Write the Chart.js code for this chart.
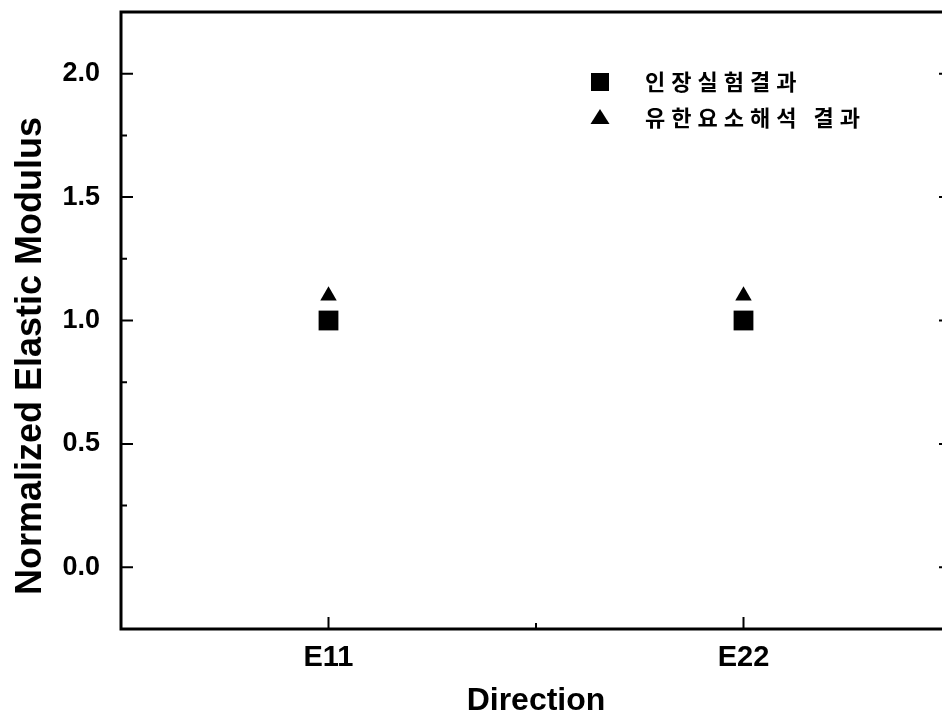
<!DOCTYPE html>
<html>
<head>
<meta charset="utf-8">
<script src="https://cdn.jsdelivr.net/npm/chart.js@4/dist/chart.umd.min.js"></script>
<style>
  html, body { margin: 0; padding: 0; background: #fff; overflow: hidden; }
  #wrap { width: 942px; height: 721px; overflow: hidden; }
</style>
</head>
<body>
<div id="wrap"><canvas id="chart" width="952" height="721"></canvas></div>
<script>
const categories = ['E11', 'E22'];
const tensileTest = [1.00, 1.00];
const femAnalysis = [1.10, 1.10];
const seriesNames = ['인장실험결과', '유한요소해석 결과'];
const yTicks = [0.0, 0.5, 1.0, 1.5, 2.0];
const yMinor = [-0.25, 0.25, 0.75, 1.25, 1.75, 2.25];
const yTitle = 'Normalized Elastic Modulus';
const xTitle = 'Direction';

const axisFont = 'Liberation Sans';

// no extra room for edge labels, the box is placed by hand
function noPad(s) {
  s.paddingTop = 0;
  s.paddingBottom = 0;
  s.paddingLeft = 0;
  s.paddingRight = 0;
}

// ticks pointing inward, the box frame, the y title and the legend
const framePlugin = {
  id: 'frame',
  afterDraw(chart) {
    const ctx = chart.ctx;
    const a = chart.chartArea;
    const x = chart.scales.x;
    const y = chart.scales.y;
    ctx.save();
    ctx.strokeStyle = '#000';
    ctx.lineWidth = 2;
    ctx.beginPath();
    yTicks.forEach(v => {
      const py = y.getPixelForValue(v);
      ctx.moveTo(a.left, py); ctx.lineTo(a.left + 12, py);
      ctx.moveTo(a.right, py); ctx.lineTo(a.right - 12, py);
    });
    yMinor.forEach(v => {
      const py = y.getPixelForValue(v);
      ctx.moveTo(a.left, py); ctx.lineTo(a.left + 6, py);
      ctx.moveTo(a.right, py); ctx.lineTo(a.right - 6, py);
    });
    categories.forEach((c, i) => {
      const px = x.getPixelForValue(i);
      ctx.moveTo(px, a.bottom); ctx.lineTo(px, a.bottom - 12);
    });
    for (let i = 0; i < categories.length - 1; i++) {
      const px = (x.getPixelForValue(i) + x.getPixelForValue(i + 1)) / 2;
      ctx.moveTo(px, a.bottom); ctx.lineTo(px, a.bottom - 6);
    }
    ctx.stroke();

    ctx.lineWidth = 3;
    ctx.strokeRect(a.left, a.top, a.right - a.left, a.bottom - a.top);

    // y axis title
    ctx.fillStyle = '#000';
    ctx.font = 'bold 36px ' + axisFont;
    ctx.textAlign = 'center';
    ctx.textBaseline = 'middle';
    ctx.translate(31, 356);
    ctx.rotate(-Math.PI / 2);
    ctx.fillText(yTitle, 0, 0);
    ctx.restore();

    // legend inside the plot
    ctx.save();
    ctx.fillStyle = '#000';
    chart.data.datasets.forEach((ds, i) => {
      const mx = a.left + 479;
      const my = a.top + 70 + i * 36;
      ctx.beginPath();
      if (ds.pointStyle === 'rect') {
        ctx.rect(mx - 9, my - 9, 18, 18);
      } else {
        ctx.moveTo(mx, my - 9);
        ctx.lineTo(mx + 9.5, my + 6);
        ctx.lineTo(mx - 9.5, my + 6);
        ctx.closePath();
      }
      ctx.fill();
      ctx.font = 'bold 22px "Noto Sans CJK KR"';
      ctx.letterSpacing = '6px';
      ctx.textAlign = 'left';
      ctx.textBaseline = 'middle';
      ctx.fillText(ds.label, a.left + 524, my);
    });
    ctx.restore();
  }
};

new Chart(document.getElementById('chart').getContext('2d'), {
  type: 'line',
  data: {
    labels: categories,
    datasets: [
      {
        label: seriesNames[0],
        data: tensileTest,
        showLine: false,
        pointStyle: 'rect',
        pointRadius: 14,
        pointHoverRadius: 14,
        backgroundColor: '#000',
        borderColor: '#000',
        pointBorderWidth: 0
      },
      {
        label: seriesNames[1],
        data: femAnalysis,
        showLine: false,
        pointStyle: 'triangle',
        pointRadius: 9.5,
        pointHoverRadius: 9.5,
        backgroundColor: '#000',
        borderColor: '#000',
        pointBorderWidth: 0
      }
    ]
  },
  options: {
    responsive: false,
    animation: false,
    layout: { autoPadding: false, padding: { top: 12, right: 1, left: 0, bottom: 0 } },
    plugins: {
      legend: { display: false },
      tooltip: { enabled: false }
    },
    scales: {
      x: {
        type: 'category',
        offset: true,
        grid: { display: false, drawTicks: false },
        border: { display: false },
        ticks: {
          color: '#000',
          padding: 12,
          font: { family: axisFont, size: 29, weight: 'bold' }
        },
        title: {
          display: true,
          text: xTitle,
          color: '#000',
          padding: { top: 0, bottom: 1 },
          font: { family: axisFont, size: 32, weight: 'bold' }
        },
        afterFit: s => { s.height = 92; noPad(s); }
      },
      y: {
        min: -0.25,
        max: 2.25,
        grid: { display: false, drawTicks: false },
        border: { display: false },
        afterBuildTicks: s => { s.ticks = yTicks.map(v => ({ value: v })); },
        ticks: {
          color: '#000',
          padding: 21,
          font: { family: axisFont, size: 27, weight: 'bold' },
          callback: v => Number(v).toFixed(1)
        },
        afterFit: s => { s.width = 121; noPad(s); }
      }
    }
  },
  plugins: [framePlugin]
});
</script>
</body>
</html>
